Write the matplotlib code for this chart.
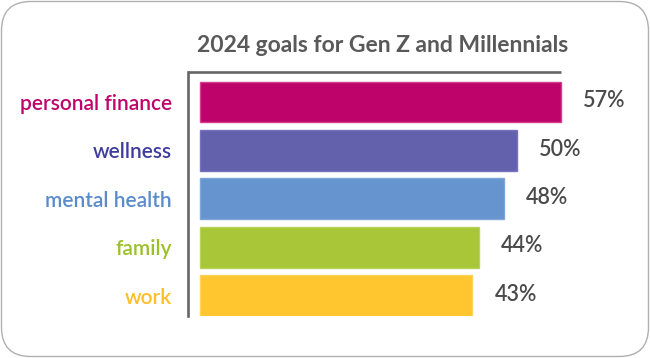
import matplotlib
matplotlib.use("Agg")
import matplotlib.pyplot as plt
from matplotlib.patches import FancyBboxPatch

# chart data
categories = ['personal finance', 'wellness', 'mental health', 'family', 'work']
values = [57, 50, 48, 44, 43]
bar_colors = ['#BE036B', '#6361AC', '#6694CF', '#A9C638', '#FFC62F']
edge_colors = ['#D2408E', '#7573BB', '#7FA6D8', '#B9D25A', '#FFD35A']
label_colors = ['#BE036B', '#3F3D9E', '#5A8CCB', '#9CC02A', '#FFBE26']
title = '2024 goals for Gen Z and Millennials'

plt.rcParams['font.family'] = ['Lato', 'DejaVu Sans']

W, H = 650, 358
fig = plt.figure(figsize=(W / 100, H / 100), dpi=100)

# rounded frame around the whole card
frame = FancyBboxPatch((1.5 / W, 1.5 / H), (W - 3) / W, (H - 3) / H,
                       boxstyle="round,pad=0,rounding_size=0.045",
                       transform=fig.transFigure, facecolor='none',
                       edgecolor='#b0b0b0', linewidth=1.0,
                       mutation_aspect=W / H, zorder=-5)
fig.patches.append(frame)

# axes: left spine at x=188px, top at y=72px, bottom at y=316px
ax = fig.add_axes([188 / W, 1 - 316 / H, 432 / W, (316 - 72) / H])
ax.patch.set_alpha(0)

pos = list(range(len(categories)))
ax.barh(pos, values, height=0.845, color=bar_colors, edgecolor=edge_colors, linewidth=1.0)

ax.set_xlim(-1.9, 66.35)
ax.set_ylim(4.4225, -0.62)

for s in ['top', 'right', 'bottom']:
    ax.spines[s].set_visible(False)
ax.spines['left'].set_color('#666666')
ax.spines['left'].set_linewidth(1.9)
ax.hlines(-0.62, -1.9, max(values), color='#666666', linewidth=1.9, clip_on=False)

ax.set_xticks([])
ax.set_yticks(pos)
ax.set_yticklabels(categories, fontsize=15, fontweight='semibold')
ax.tick_params(axis='y', length=0, pad=11.5)
for lbl, c in zip(ax.get_yticklabels(), label_colors):
    lbl.set_color(c)

for p, v in zip(pos, values):
    ax.annotate(f'{v}%', (v, p), xytext=(16, 1), textcoords='offset points',
                va='center', ha='left', fontsize=15.5, color='#4a4a4a',
                fontweight='semibold')

fig.text(383 / W, 1 - 45 / H, title, ha='center', va='center',
         fontsize=16.5, color='#595959', fontweight='bold')

fig.savefig('out.png', dpi=100)
